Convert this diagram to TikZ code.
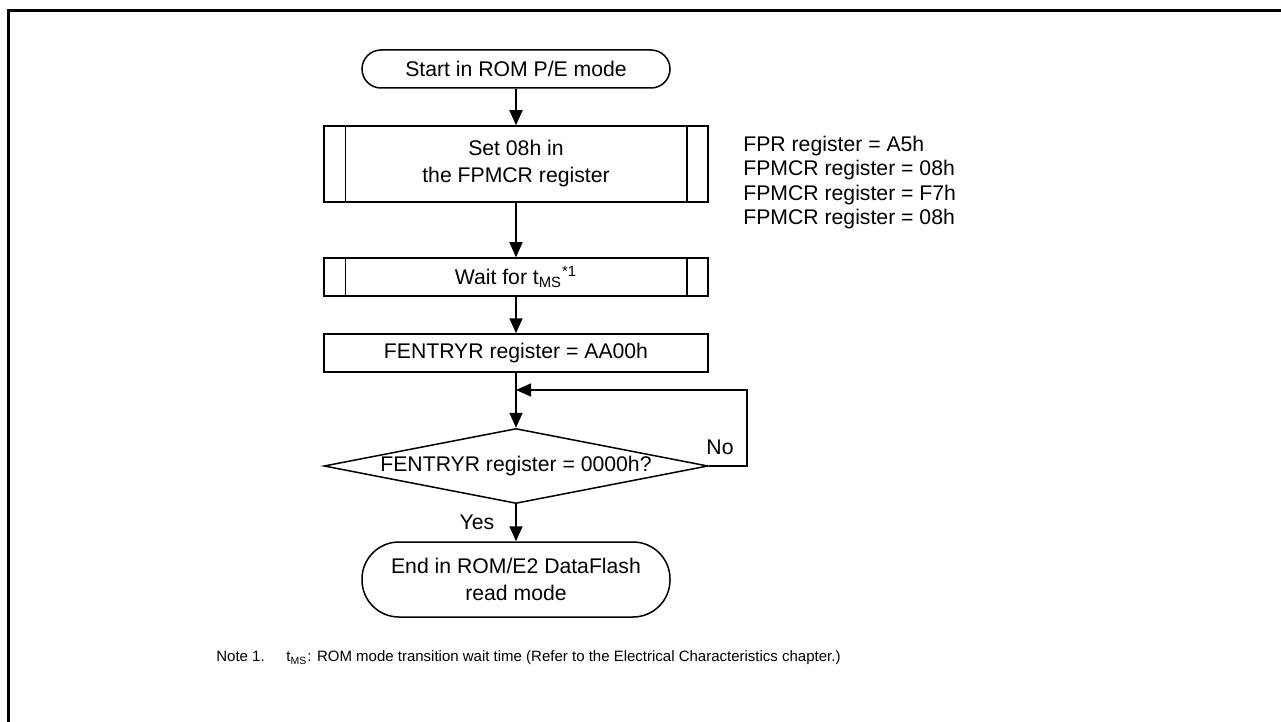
\documentclass[tikz,border=0pt]{standalone}
\usepackage{fontspec}
\setmainfont{Liberation Sans}
\usetikzlibrary{arrows.meta,shapes.geometric}
\tikzset{
  base/.style={font=\fontsize{10.6}{13.5}\selectfont},
  term/.style={base,draw,line width=0.75pt,rectangle,rounded corners=#1,align=center,inner sep=0pt},
  procbox/.style={base,draw,line width=0.75pt,rectangle,minimum width=192pt,align=center,inner sep=0pt},
  decision/.style={draw,line width=0.75pt,diamond,minimum width=192pt,minimum height=37.5pt,inner sep=0pt},
  arr/.style={line width=0.75pt,-{Triangle[width=6.5pt,length=7.5pt]}},
  line/.style={line width=0.75pt},
  txt/.style={base,inner sep=0pt}
}
\begin{document}
\begin{tikzpicture}[x=0.5pt,y=-0.5pt]
\useasboundingbox (0,0) rectangle (1281,722);
\draw[line width=1.75pt] (8.5,722) -- (8.5,10.5) -- (1281,10.5);

\node[term=9.5pt,minimum width=154pt,minimum height=19pt] (start) at (516,69) {Start in ROM P/E mode};
\node[procbox,minimum height=38pt] (set) at (516,164) {Set 08h in\\the FPMCR register};
\node[procbox,minimum height=19pt] (wait) at (516,277) {Wait for t\textsubscript{MS}\textsuperscript{*1}};
\node[procbox,minimum height=19pt] (fent) at (516,353) {FENTRYR register = AA00h};
\node[decision] (dec) at (516,466) {};
\node[txt] (dectxt) at (dec.center) {FENTRYR register = 0000h?};
\node[term=18.5pt,minimum width=154pt,minimum height=37.5pt] (end) at (516,579.5) {End in ROM/E2 DataFlash\\read mode};

% predefined process side bars
\draw[line] ([xshift=11pt]set.north west) -- ([xshift=11pt]set.south west);
\draw[line] ([xshift=-11pt]set.north east) -- ([xshift=-11pt]set.south east);
\draw[line] ([xshift=11pt]wait.north west) -- ([xshift=11pt]wait.south west);
\draw[line] ([xshift=-11pt]wait.north east) -- ([xshift=-11pt]wait.south east);

\coordinate (join) at (516,390);
\coordinate (loopr) at (747,466);

\draw[arr] (start) -- (set);
\draw[arr] (set) -- (wait);
\draw[arr] (wait) -- (fent);
\draw[arr] (fent) -- (dec.north);
\draw[arr] (dec.east) -- (loopr) |- (join);
\draw[arr] (dec.south) -- (end);

\node[txt] (yes) at (477,522) {Yes};
\node[txt] (no) at (720,447) {No};

\node[txt,anchor=west,align=left,font=\fontsize{10.6}{12.25}\selectfont] (regs) at (743,182.5)
  {FPR register = A5h\\FPMCR register = 08h\\FPMCR register = F7h\\FPMCR register = 08h};

\node[txt,anchor=west,font=\fontsize{7.5}{9.5}\selectfont] (note) at (216,658)
  {\makebox[35pt][l]{Note 1.}t\textsubscript{MS}: ROM mode transition wait time (Refer to the Electrical Characteristics chapter.)};
\end{tikzpicture}
\end{document}
